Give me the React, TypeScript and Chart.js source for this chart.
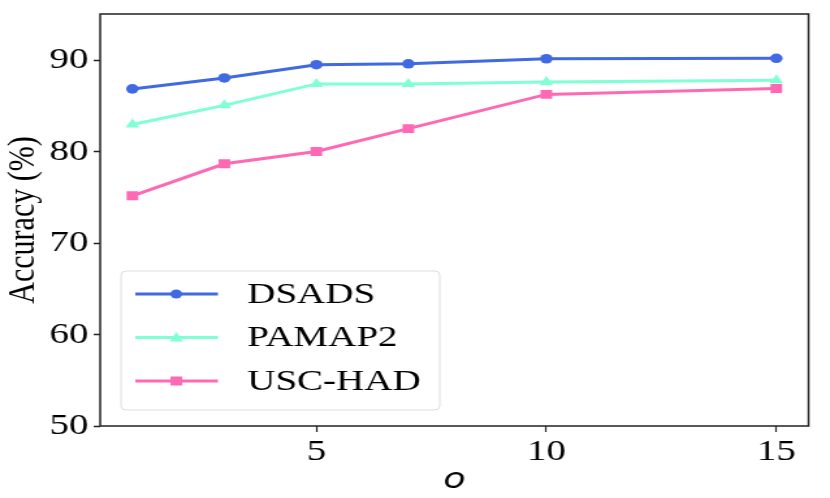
import { useEffect, useRef } from "react";
import { Chart, registerables } from "chart.js";

Chart.register(...registerables);

const xValues = [1, 3, 5, 7, 10, 15];
const dsads = [86.9, 88.1, 89.55, 89.65, 90.2, 90.25];
const pamap2 = [83.0, 85.1, 87.45, 87.45, 87.65, 87.85];
const uscHad = [75.2, 78.7, 80.05, 82.55, 86.3, 86.95];
const xTicks = [5, 10, 15];
const yTicks = [50, 60, 70, 80, 90];

const SERIF = "'Liberation Serif', 'Times New Roman', serif";
// the reference is stretched sideways, so draw narrow and scale the canvas out
const W = 638;
const H = 498;
const STRETCH = 830 / W;

const series = [
  { label: "DSADS", data: dsads, color: "#4169E1", style: "circle" },
  { label: "PAMAP2", data: pamap2, color: "#7FFFD4", style: "triangle" },
  { label: "USC-HAD", data: uscHad, color: "#FF69B4", style: "rect" },
];

// frame around the plot area (matplotlib spines)
const framePlugin = {
  id: "frame",
  afterDraw: (c: any) => {
    const { ctx, chartArea } = c;
    ctx.save();
    ctx.strokeStyle = "#222";
    ctx.lineWidth = 1.5;
    ctx.strokeRect(chartArea.left, chartArea.top, chartArea.right - chartArea.left, chartArea.bottom - chartArea.top);
    ctx.restore();
  },
};

// legend box in the lower left of the axes
const legendPlugin = {
  id: "boxLegend",
  afterDraw: (c: any) => {
    const { ctx } = c;
    const bx = 93;
    const by = 271;
    const bw = 245;
    const bh = 139;
    ctx.save();
    ctx.fillStyle = "rgba(255,255,255,0.85)";
    ctx.strokeStyle = "#ddd";
    ctx.lineWidth = 1;
    ctx.beginPath();
    (ctx as any).roundRect(bx, by, bw, bh, 4);
    ctx.fill();
    ctx.stroke();
    series.forEach((s, i) => {
      const y = 294 + i * 43.5;
      const mx = 135.5;
      ctx.strokeStyle = s.color;
      ctx.lineWidth = 3;
      ctx.beginPath();
      ctx.moveTo(104, y);
      ctx.lineTo(167.5, y);
      ctx.stroke();
      ctx.fillStyle = s.color;
      ctx.beginPath();
      if (s.style === "circle") ctx.arc(mx, y, 4.5, 0, Math.PI * 2);
      else if (s.style === "triangle") {
        ctx.moveTo(mx, y - 5.5);
        ctx.lineTo(mx + 5, y + 4);
        ctx.lineTo(mx - 5, y + 4);
        ctx.closePath();
      } else ctx.rect(mx - 4.5, y - 4.5, 9, 9);
      ctx.fill();
      ctx.fillStyle = "#000";
      ctx.font = `30px ${SERIF}`;
      ctx.textBaseline = "middle";
      ctx.fillText(s.label, 190, y + 1);
    });
    ctx.restore();
  },
};

export default function App() {
  const canvasRef = useRef<HTMLCanvasElement | null>(null);

  useEffect(() => {
    const el = canvasRef.current;
    if (!el) return;
    const c = new Chart(el, {
      type: "line",
      data: {
        datasets: series.map((s) => ({
          label: s.label,
          data: s.data.map((v, i) => ({ x: xValues[i], y: v })),
          borderColor: s.color,
          backgroundColor: s.color,
          borderWidth: 3,
          pointStyle: s.style as any,
          pointRadius: s.style === "circle" ? 4.8 : s.style === "rect" ? 6.3 : 6,
          pointBorderWidth: 0,
          tension: 0,
        })),
      },
      options: {
        animation: false,
        responsive: false,
        devicePixelRatio: 1,
        layout: { padding: { top: 14, right: 16.5, left: 0, bottom: 0 } },
        plugins: { legend: { display: false }, tooltip: { enabled: false } },
        scales: {
          x: {
            type: "linear",
            min: 0.3,
            max: 15.7,
            afterBuildTicks: (axis: any) => {
              axis.ticks = xTicks.map((v) => ({ value: v }));
            },
            afterFit: (axis: any) => {
              axis.height = 72;
              axis.paddingLeft = 0;
              axis.paddingRight = 0;
            },
            grid: { drawOnChartArea: false, tickLength: 6, color: "#222", tickWidth: 1.2 },
            border: { display: false },
            ticks: { color: "#000", padding: 2, font: { family: SERIF, size: 30 } },
            title: {
              display: true,
              text: "o",
              color: "#000",
              padding: { top: 0, bottom: 0 },
              font: { family: "'DejaVu Sans', sans-serif", size: 28, style: "italic" },
            },
          },
          y: {
            min: 50,
            max: 95.1,
            afterBuildTicks: (axis: any) => {
              axis.ticks = yTicks.map((v) => ({ value: v }));
            },
            afterFit: (axis: any) => {
              axis.width = 77;
              axis.paddingTop = 0;
              axis.paddingBottom = 0;
            },
            grid: { drawOnChartArea: false, tickLength: 5, color: "#222", tickWidth: 1.5 },
            border: { display: false },
            ticks: { color: "#000", padding: 4, font: { family: SERIF, size: 30 } },
            title: {
              display: true,
              text: "Accuracy (%)",
              color: "#000",
              padding: { top: 0, bottom: 0 },
              font: { family: SERIF, size: 30 },
            },
          },
        },
      },
      plugins: [framePlugin, legendPlugin],
    });
    return () => c.destroy();
  }, []);

  return (
    <div style={{ position: "fixed", left: 0, top: 0, width: 830, height: H, background: "#fff", overflow: "hidden" }}>
      <div style={{ width: W, height: H, transform: `scaleX(${STRETCH})`, transformOrigin: "0 0" }}>
        <canvas ref={canvasRef} width={W} height={H} style={{ width: W, height: H }} />
      </div>
    </div>
  );
}
